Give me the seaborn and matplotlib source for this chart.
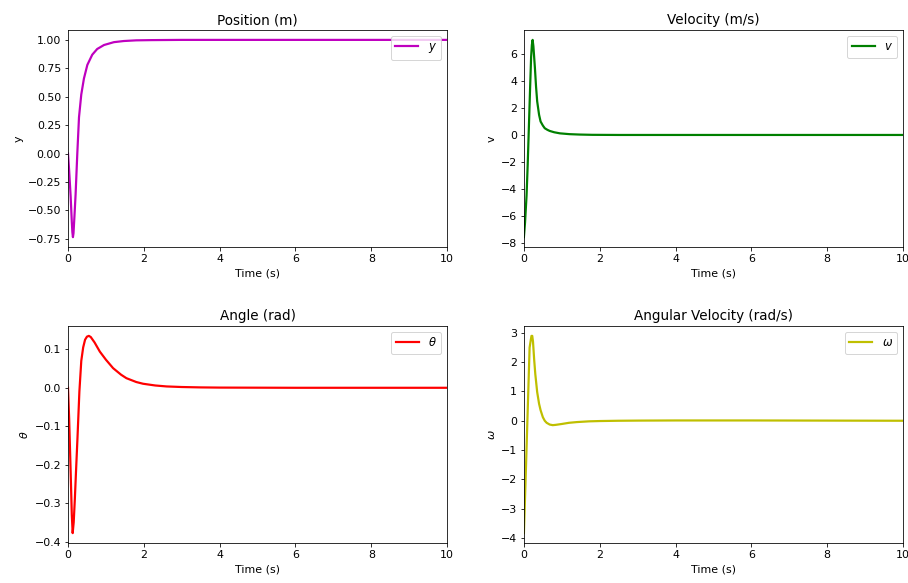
import matplotlib
matplotlib.use("Agg")
import matplotlib.pyplot as plt
import seaborn as sns
import numpy as np

# ---- data ----
t_pos = [0, 0.03, 0.07, 0.10, 0.115, 0.13, 0.145, 0.17, 0.2, 0.245, 0.29, 0.35, 0.42, 0.51,
         0.64, 0.77, 0.95, 1.21, 1.47, 1.8, 2.2, 3, 4, 5, 6, 7, 8, 9, 10]
pos = [0, -0.15, -0.38, -0.60, -0.69, -0.735, -0.70, -0.55, -0.36, 0.0, 0.32, 0.52, 0.66, 0.78,
       0.87, 0.92, 0.955, 0.98, 0.99, 0.996, 0.998, 1.0, 1.0, 1.0, 1.0, 1.0, 1.0, 1.0, 1.0]

t_vel = [0, 0.03, 0.07, 0.10, 0.13, 0.16, 0.19, 0.21, 0.23, 0.25, 0.27, 0.29, 0.32, 0.35,
         0.40, 0.44, 0.50, 0.55, 0.62, 0.68, 0.8, 0.95, 1.2, 1.47, 1.8, 2.5, 3, 4, 6, 8, 10]
vel = [-7.6, -6.5, -4.5, -2.2, 0.5, 3.2, 5.8, 6.7, 7.07, 6.6, 5.8, 5.0, 3.6, 2.5,
       1.5, 1.0, 0.7, 0.5, 0.38, 0.3, 0.2, 0.12, 0.06, 0.03, 0.01, 0.0, 0.0, 0.0, 0.0, 0.0, 0.0]

t_th = [0, 0.03, 0.07, 0.10, 0.123, 0.15, 0.18, 0.21, 0.25, 0.3, 0.35, 0.40, 0.45, 0.5, 0.55,
        0.6, 0.7, 0.84, 1.0, 1.19, 1.4, 1.54, 1.8, 1.98, 2.3, 2.6, 3.0, 3.5, 4, 6, 8, 10]
theta = [0, -0.08, -0.22, -0.33, -0.378, -0.35, -0.29, -0.22, -0.13, -0.01, 0.07, 0.105, 0.125,
         0.133, 0.135, 0.132, 0.118, 0.094, 0.073, 0.051, 0.034, 0.025, 0.015, 0.0105, 0.006,
         0.0035, 0.002, 0.001, 0.0005, 0.0, 0.0, 0.0]

t_om = [0, 0.04, 0.08, 0.12, 0.15, 0.18, 0.2, 0.22, 0.24, 0.27, 0.3, 0.35, 0.4, 0.44, 0.5, 0.55,
        0.6, 0.68, 0.76, 0.84, 1.0, 1.19, 1.4, 1.72, 2.0, 2.5, 3, 4, 5, 6, 8, 10]
omega = [-3.84, -2.2, -0.5, 1.2, 2.5, 2.75, 2.9, 2.9, 2.7, 2.1, 1.6, 0.98, 0.58, 0.36, 0.12, 0.0,
         -0.07, -0.13, -0.15, -0.14, -0.11, -0.07, -0.045, -0.02, -0.01, 0.0, 0.005, 0.01, 0.01,
         0.01, 0.005, 0.0]

titles = ["Position (m)", "Velocity (m/s)", "Angle (rad)", "Angular Velocity (rad/s)"]
ylabels = ["y", "v", r"$\theta$", r"$\omega$"]
legend_labels = [r"$y$", r"$v$", r"$\theta$", r"$\omega$"]
colors = ["m", "g", "r", "y"]
series = [(t_pos, pos), (t_vel, vel), (t_th, theta), (t_om, omega)]

plt.rcParams.update({
    "font.size": 11,
    "axes.titlesize": 13.5,
    "axes.labelsize": 11,
    "xtick.labelsize": 11,
    "ytick.labelsize": 11,
    "legend.fontsize": 11.5,
})

fig, axes = plt.subplots(2, 2, figsize=(908 / 72, 583 / 72), dpi=72)
fig.subplots_adjust(left=0.0749, right=0.9945, bottom=0.0686, top=0.9485,
                    wspace=0.2026, hspace=0.364)

for ax, (tx, ty), title, yl, ll, c in zip(axes.flat, series, titles, ylabels, legend_labels, colors):
    sns.lineplot(x=tx, y=ty, ax=ax, color=c, linewidth=2.2, label=ll)
    ax.set_xlim(0, 10)
    ax.set_title(title)
    ax.set_xlabel("Time (s)")
    ax.set_ylabel(yl)
    ax.legend(loc="upper right")

fig.savefig("out.png", dpi=72)
